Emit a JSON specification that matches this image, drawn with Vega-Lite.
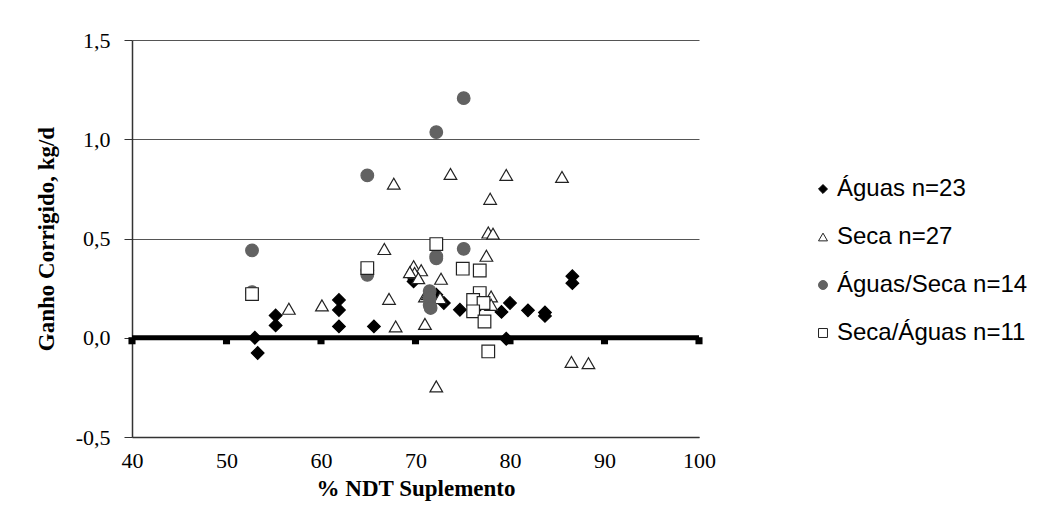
{
  "$schema": "https://vega.github.io/schema/vega-lite/v6.json",
  "width": 567,
  "height": 397,
  "autosize": {"type": "none"},
  "padding": {"left": 132, "top": 40, "right": 349, "bottom": 91},
  "background": "white",
  "config": {
    "locale": {"number": {"decimal": ",", "thousands": ".", "grouping": [3], "currency": ["", ""], "minus": "-"}},
    "view": {"stroke": null}
  },
  "encoding": {
    "x": {
      "field": "ndt", "type": "quantitative",
      "scale": {"domain": [40, 100], "nice": false, "zero": false},
      "axis": {
        "values": [40, 50, 60, 70, 80, 90, 100], "grid": false, "ticks": false, "labelFlush": false,
        "domainColor": "#333", "domainWidth": 1.5,
        "labelFont": "Liberation Serif", "labelFontSize": 22, "labelColor": "black", "labelPadding": 13,
        "title": "% NDT Suplemento", "titleFont": "Liberation Serif", "titleFontSize": 23, "titleFontWeight": "bold", "titleColor": "black", "titlePadding": 6
      }
    },
    "y": {
      "field": "ganho", "type": "quantitative",
      "scale": {"domain": [-0.5, 1.5], "nice": false, "zero": false},
      "axis": {
        "values": [-0.5, 0, 0.5, 1, 1.5], "format": ".1f", "labelFlush": false,
        "grid": true, "gridColor": "#555", "gridWidth": 1,
        "domainColor": "#333", "domainWidth": 1.5, "tickColor": "#333", "tickSize": 8,
        "labelFont": "Liberation Serif", "labelFontSize": 22, "labelColor": "black", "labelPadding": 14,
        "title": "Ganho Corrigido, kg/d", "titleFont": "Liberation Serif", "titleFontSize": 23, "titleFontWeight": "bold", "titleColor": "black", "titlePadding": 17
      }
    }
  },
  "layer": [
    {
      "data": {"values": [
        {"ndt": 40, "ganho": 0}, {"ndt": 50, "ganho": 0}, {"ndt": 60, "ganho": 0}, {"ndt": 70, "ganho": 0},
        {"ndt": 80, "ganho": 0}, {"ndt": 90, "ganho": 0}, {"ndt": 100, "ganho": 0}
      ]},
      "layer": [
        {"mark": {"type": "line", "color": "black", "strokeWidth": 5}},
        {"mark": {"type": "square", "color": "black", "size": 50, "opacity": 1, "yOffset": 3}}
      ]
    },
    {
      "data": {"values": [
        {"ndt": 53.0, "ganho": 0.0, "grupo": "Águas n=23"},
        {"ndt": 53.3, "ganho": -0.077, "grupo": "Águas n=23"},
        {"ndt": 55.2, "ganho": 0.112, "grupo": "Águas n=23"},
        {"ndt": 55.2, "ganho": 0.062, "grupo": "Águas n=23"},
        {"ndt": 61.9, "ganho": 0.19, "grupo": "Águas n=23"},
        {"ndt": 61.9, "ganho": 0.14, "grupo": "Águas n=23"},
        {"ndt": 61.9, "ganho": 0.057, "grupo": "Águas n=23"},
        {"ndt": 65.6, "ganho": 0.057, "grupo": "Águas n=23"},
        {"ndt": 69.8, "ganho": 0.284, "grupo": "Águas n=23"},
        {"ndt": 69.9, "ganho": 0.295, "grupo": "Águas n=23"},
        {"ndt": 72.2, "ganho": 0.217, "grupo": "Águas n=23"},
        {"ndt": 73.0, "ganho": 0.175, "grupo": "Águas n=23"},
        {"ndt": 74.7, "ganho": 0.141, "grupo": "Águas n=23"},
        {"ndt": 76.8, "ganho": 0.166, "grupo": "Águas n=23"},
        {"ndt": 77.2, "ganho": 0.175, "grupo": "Águas n=23"},
        {"ndt": 79.1, "ganho": 0.13, "grupo": "Águas n=23"},
        {"ndt": 80.0, "ganho": 0.175, "grupo": "Águas n=23"},
        {"ndt": 81.9, "ganho": 0.138, "grupo": "Águas n=23"},
        {"ndt": 83.7, "ganho": 0.127, "grupo": "Águas n=23"},
        {"ndt": 83.7, "ganho": 0.11, "grupo": "Águas n=23"},
        {"ndt": 86.6, "ganho": 0.31, "grupo": "Águas n=23"},
        {"ndt": 86.6, "ganho": 0.275, "grupo": "Águas n=23"},
        {"ndt": 79.6, "ganho": -0.005, "grupo": "Águas n=23"},

        {"ndt": 56.6, "ganho": 0.146, "grupo": "Seca n=27"},
        {"ndt": 60.1, "ganho": 0.163, "grupo": "Seca n=27"},
        {"ndt": 67.7, "ganho": 0.776, "grupo": "Seca n=27"},
        {"ndt": 66.7, "ganho": 0.447, "grupo": "Seca n=27"},
        {"ndt": 67.2, "ganho": 0.196, "grupo": "Seca n=27"},
        {"ndt": 67.9, "ganho": 0.057, "grupo": "Seca n=27"},
        {"ndt": 73.7, "ganho": 0.825, "grupo": "Seca n=27"},
        {"ndt": 79.6, "ganho": 0.82, "grupo": "Seca n=27"},
        {"ndt": 85.5, "ganho": 0.81, "grupo": "Seca n=27"},
        {"ndt": 77.9, "ganho": 0.70, "grupo": "Seca n=27"},
        {"ndt": 77.7, "ganho": 0.53, "grupo": "Seca n=27"},
        {"ndt": 78.2, "ganho": 0.524, "grupo": "Seca n=27"},
        {"ndt": 77.5, "ganho": 0.413, "grupo": "Seca n=27"},
        {"ndt": 72.7, "ganho": 0.297, "grupo": "Seca n=27"},
        {"ndt": 69.8, "ganho": 0.36, "grupo": "Seca n=27"},
        {"ndt": 70.6, "ganho": 0.34, "grupo": "Seca n=27"},
        {"ndt": 69.9, "ganho": 0.326, "grupo": "Seca n=27"},
        {"ndt": 71.0, "ganho": 0.208, "grupo": "Seca n=27"},
        {"ndt": 71.0, "ganho": 0.07, "grupo": "Seca n=27"},
        {"ndt": 78.0, "ganho": 0.208, "grupo": "Seca n=27"},
        {"ndt": 78.0, "ganho": 0.166, "grupo": "Seca n=27"},
        {"ndt": 72.2, "ganho": -0.245, "grupo": "Seca n=27"},
        {"ndt": 86.5, "ganho": -0.122, "grupo": "Seca n=27"},
        {"ndt": 88.3, "ganho": -0.128, "grupo": "Seca n=27"},
        {"ndt": 69.4, "ganho": 0.33, "grupo": "Seca n=27"},
        {"ndt": 70.3, "ganho": 0.30, "grupo": "Seca n=27"},
        {"ndt": 71.3, "ganho": 0.22, "grupo": "Seca n=27"},
        {"ndt": 72.6, "ganho": 0.2, "grupo": "Seca n=27"},

        {"ndt": 52.7, "ganho": 0.44, "grupo": "Águas/Seca n=14"},
        {"ndt": 52.7, "ganho": 0.23, "grupo": "Águas/Seca n=14"},
        {"ndt": 64.9, "ganho": 0.818, "grupo": "Águas/Seca n=14"},
        {"ndt": 64.9, "ganho": 0.317, "grupo": "Águas/Seca n=14"},
        {"ndt": 64.9, "ganho": 0.34, "grupo": "Águas/Seca n=14"},
        {"ndt": 72.2, "ganho": 1.036, "grupo": "Águas/Seca n=14"},
        {"ndt": 75.1, "ganho": 1.207, "grupo": "Águas/Seca n=14"},
        {"ndt": 75.1, "ganho": 0.448, "grupo": "Águas/Seca n=14"},
        {"ndt": 72.2, "ganho": 0.41, "grupo": "Águas/Seca n=14"},
        {"ndt": 72.2, "ganho": 0.40, "grupo": "Águas/Seca n=14"},
        {"ndt": 71.5, "ganho": 0.235, "grupo": "Águas/Seca n=14"},
        {"ndt": 71.5, "ganho": 0.2, "grupo": "Águas/Seca n=14"},
        {"ndt": 71.5, "ganho": 0.165, "grupo": "Águas/Seca n=14"},
        {"ndt": 71.6, "ganho": 0.15, "grupo": "Águas/Seca n=14"},

        {"ndt": 52.7, "ganho": 0.22, "grupo": "Seca/Águas n=11"},
        {"ndt": 64.9, "ganho": 0.351, "grupo": "Seca/Águas n=11"},
        {"ndt": 72.2, "ganho": 0.472, "grupo": "Seca/Águas n=11"},
        {"ndt": 75.0, "ganho": 0.348, "grupo": "Seca/Águas n=11"},
        {"ndt": 76.8, "ganho": 0.339, "grupo": "Seca/Águas n=11"},
        {"ndt": 76.8, "ganho": 0.225, "grupo": "Seca/Águas n=11"},
        {"ndt": 76.1, "ganho": 0.19, "grupo": "Seca/Águas n=11"},
        {"ndt": 77.2, "ganho": 0.175, "grupo": "Seca/Águas n=11"},
        {"ndt": 76.1, "ganho": 0.133, "grupo": "Seca/Águas n=11"},
        {"ndt": 77.3, "ganho": 0.082, "grupo": "Seca/Águas n=11"},
        {"ndt": 77.7, "ganho": -0.069, "grupo": "Seca/Águas n=11"}
      ]},
      "mark": {"type": "point", "filled": true, "size": 160, "strokeWidth": 1.2, "opacity": 1},
      "encoding": {
        "shape": {
          "field": "grupo", "type": "nominal",
          "scale": {"domain": ["Águas n=23", "Seca n=27", "Águas/Seca n=14", "Seca/Águas n=11"], "range": ["diamond", "triangle-up", "circle", "square"]},
          "legend": {"title": null, "orient": "none", "legendX": 679, "legendY": 137, "padding": 0, "rowPadding": 24, "symbolSize": 80, "labelOffset": 2, "labelLimit": 400, "labelFont": "Liberation Sans", "labelFontSize": 24, "labelColor": "black", "symbolStrokeWidth": 1}
        },
        "fill": {
          "field": "grupo", "type": "nominal",
          "scale": {"domain": ["Águas n=23", "Seca n=27", "Águas/Seca n=14", "Seca/Águas n=11"], "range": ["black", "white", "#626262", "white"]},
          "legend": {"title": null, "orient": "none", "legendX": 679, "legendY": 137, "padding": 0, "rowPadding": 24, "symbolSize": 80, "labelOffset": 2, "labelLimit": 400, "labelFont": "Liberation Sans", "labelFontSize": 24, "labelColor": "black", "symbolStrokeWidth": 1}
        },
        "stroke": {
          "field": "grupo", "type": "nominal",
          "scale": {"domain": ["Águas n=23", "Seca n=27", "Águas/Seca n=14", "Seca/Águas n=11"], "range": ["black", "#222222", "#626262", "#222222"]},
          "legend": {"title": null, "orient": "none", "legendX": 679, "legendY": 137, "padding": 0, "rowPadding": 24, "symbolSize": 80, "labelOffset": 2, "labelLimit": 400, "labelFont": "Liberation Sans", "labelFontSize": 24, "labelColor": "black", "symbolStrokeWidth": 1}
        }
      }
    }
  ]
}
